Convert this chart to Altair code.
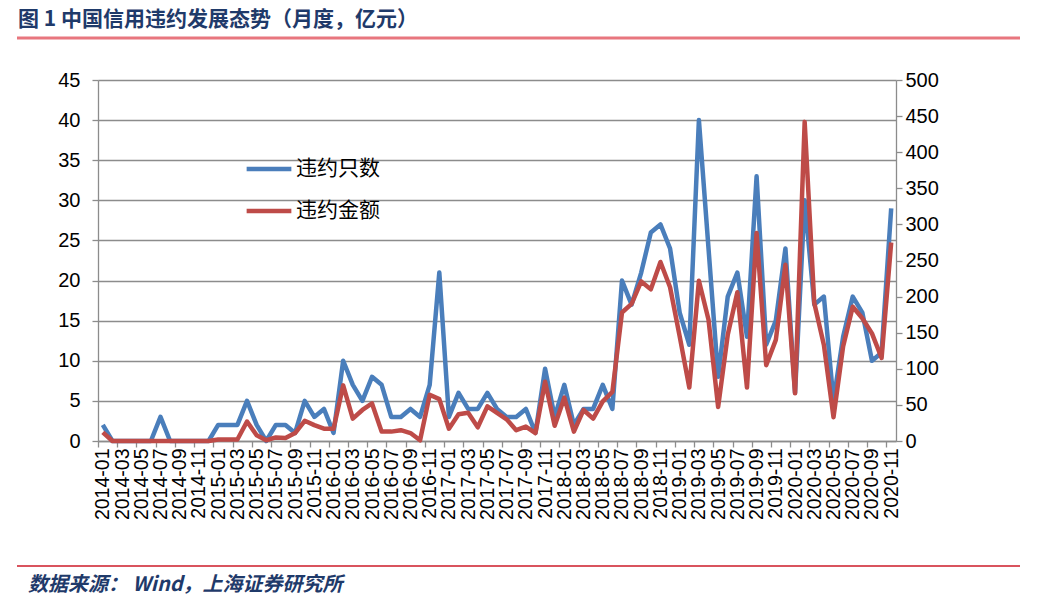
import altair as alt
import pandas as pd

# ---- data ----
months = [f"{y}-{m:02d}" for y in range(2014, 2021) for m in range(1, 13)][:83]

default_count = [
    2, 0, 0, 0, 0, 0, 3, 0, 0, 0, 0, 0,          # 2014
    2, 2, 2, 5, 2, 0, 2, 2, 1, 5, 3, 4,          # 2015
    1, 10, 7, 5, 8, 7, 3, 3, 4, 3, 7, 21,        # 2016
    3, 6, 4, 4, 6, 4, 3, 3, 4, 1, 9, 3,          # 2017
    7, 2, 4, 4, 7, 4, 20, 17, 21, 26, 27, 24,    # 2018
    16, 12, 40, 24, 8, 18, 21, 13, 33, 12, 15, 24,  # 2019
    6, 30, 17, 18, 5, 13, 18, 16, 10, 11, 29,    # 2020
]
default_amount = [
    12, 0, 0, 0, 0, 0, 0, 0, 0, 0, 0, 0,
    2, 2, 2, 27, 8, 1, 5, 4, 11, 28, 22, 17,
    17, 77, 31, 43, 52, 13, 13, 15, 11, 1, 64, 58,
    17, 37, 39, 19, 48, 39, 30, 15, 20, 11, 82, 21,
    60, 13, 43, 31, 55, 68, 178, 190, 221, 210, 248, 213,
    145, 74, 222, 168, 47, 147, 206, 74, 288, 105, 140, 244,
    66, 442, 191, 133, 33, 131, 186, 170, 149, 115, 275,
]
series_names = ["违约只数", "违约金额"]
series_colors = ["#4A7EBB", "#BE4B48"]
left_ticks = list(range(0, 50, 5))
right_ticks = list(range(0, 550, 50))

title_text = "图 1  中国信用违约发展态势（月度，亿元）"
source_text = "数据来源：  Wind，上海证券研究所"

df_count = pd.DataFrame({
    "idx": list(range(len(months))),
    "month": months,
    "value": default_count,
    "series": [series_names[0]] * len(months),
})
df_amount = pd.DataFrame({
    "idx": list(range(len(months))),
    "month": months,
    "value": default_amount,
    "series": [series_names[1]] * len(months),
})

GRID = "#8C8C8C"
n = len(months)
label_array = "[" + ",".join(f"'{m}'" for m in months) + "]"

xscale = alt.Scale(domain=[-0.5, n - 0.5], nice=False, zero=False)

x_labels = alt.X(
    "idx:Q", scale=xscale,
    axis=alt.Axis(
        orient="bottom", values=list(range(0, n, 2)),
        labelExpr=f"{label_array}[round(datum.value)]",
        labelAngle=270, ticks=False, grid=False, domain=False,
        labelFont="Liberation Sans", labelFontSize=19.5, labelColor="black",
        labelPadding=7, labelOverlap=False, labelFlush=False, title=None,
    ),
)
x_ticks = alt.X(
    "idx:Q", scale=xscale,
    axis=alt.Axis(
        orient="bottom", values=[-0.5] + [i + 0.5 for i in range(1, n, 2)],
        labels=False, ticks=True, tickSize=6, tickColor=GRID, tickWidth=1.3,
        domain=True, domainColor=GRID, domainWidth=1.3, grid=False, title=None,
    ),
)

color_scale = alt.Scale(domain=series_names, range=series_colors)
legend = alt.Legend(
    title=None, orient="none", legendX=146, legendY=64,
    symbolType="stroke", symbolStrokeWidth=4.5, symbolSize=2000,
    labelFont="Noto Sans CJK SC", labelFontSize=21, labelColor="black",
    rowPadding=7, labelOffset=2, symbolOpacity=1,
)
color_enc = alt.Color("series:N", scale=color_scale, legend=legend)

blue = alt.Chart(df_count).mark_line(strokeWidth=4.5, strokeJoin="round").encode(
    x=x_labels,
    y=alt.Y(
        "value:Q", scale=alt.Scale(domain=[0, 45], nice=False),
        axis=alt.Axis(
            orient="left", values=left_ticks, grid=True, gridColor=GRID,
            gridWidth=1.3, domainColor=GRID, domainWidth=1.3, tickColor=GRID,
            tickWidth=1.3, tickSize=6, labelFont="Liberation Sans",
            labelFontSize=20, labelColor="black", labelPadding=12, title=None,
        ),
    ),
    color=color_enc,
)

red = alt.Chart(df_amount).mark_line(strokeWidth=4.5, strokeJoin="round").encode(
    x=x_ticks,
    y=alt.Y(
        "value:Q", scale=alt.Scale(domain=[0, 500], nice=False),
        axis=alt.Axis(
            orient="right", values=right_ticks, grid=False,
            domainColor=GRID, domainWidth=1.3, tickColor=GRID,
            tickWidth=1.3, tickSize=6, labelFont="Liberation Sans",
            labelFontSize=20, labelColor="black", labelPadding=3, title=None,
        ),
    ),
    color=color_enc,
)

one = pd.DataFrame({"title": [title_text], "source": [source_text]})

title = alt.Chart(one).mark_text(
    align="left", baseline="middle", font="Noto Sans CJK SC", fontSize=21,
    fontWeight="bold", color="#1F3A6A",
).encode(text="title:N", x=alt.value(-80), y=alt.value(-60))

top_rule = alt.Chart(one).mark_rule(color="#E8767E", strokeWidth=3).encode(
    x=alt.value(-81), x2=alt.value(922), y=alt.value(-42))

bottom_rule = alt.Chart(one).mark_rule(color="#D9545E", strokeWidth=2).encode(
    x=alt.value(-81), x2=alt.value(922), y=alt.value(486))

source = alt.Chart(one).mark_text(
    align="left", baseline="middle", font="Noto Sans CJK SC", fontSize=20,
    fontWeight="bold", fontStyle="italic", color="#1F3A6A",
).encode(text="source:N", x=alt.value(-70), y=alt.value(505))

chart = alt.layer(blue, red, title, top_rule, bottom_rule, source).resolve_scale(
    y="independent"
).resolve_axis(x="independent").properties(
    width=798, height=361,
    autosize=alt.AutoSizeParams(type="none"),
    padding={"left": 98, "top": 80, "right": 146, "bottom": 167},
    background="white",
).configure_view(stroke=None)

chart.save("out.html", embed_options={"renderer": "svg", "actions": False})
